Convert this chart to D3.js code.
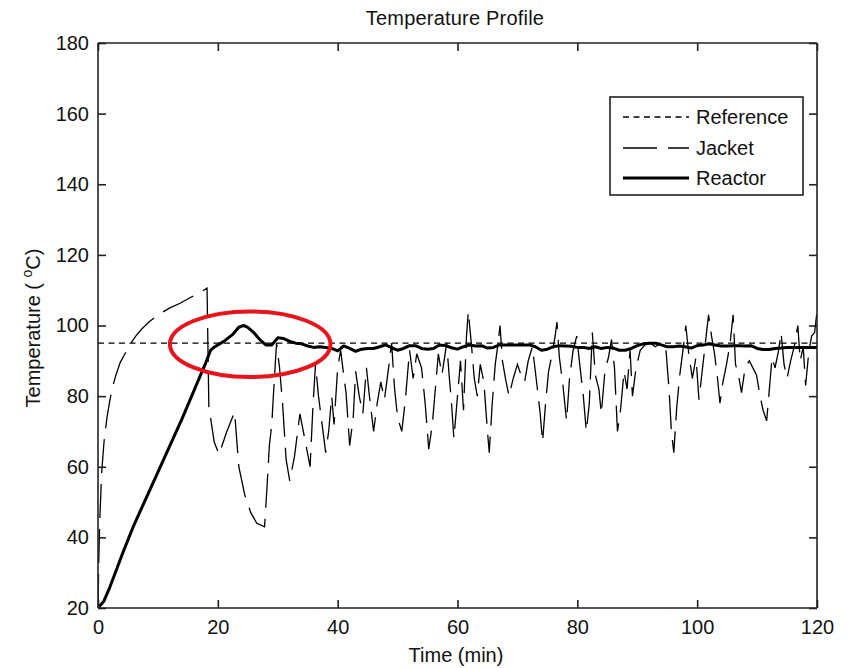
<!DOCTYPE html>
<html><head><meta charset="utf-8">
<script src="https://cdn.jsdelivr.net/npm/d3@7"></script>
<style>body{margin:0;background:#fff}svg{display:block}text{font-family:"Liberation Sans",Arial,sans-serif;fill:#111}</style>
</head><body>
<svg id="chart" width="851" height="668"></svg>
<script>
const xTicks = [0, 20, 40, 60, 80, 100, 120];
const yTicks = [20, 40, 60, 80, 100, 120, 140, 160, 180];
const seriesNames = ["Reference", "Jacket", "Reactor"];

const referenceTime = [0, 120];
const referenceTemp = [95, 95];

const reactorTime = [0,1,2,3,4,5,6,8,10,12,14,16,17,18,18.8,19.5,21,22.5,23.5,24.3,25,26,27,28,29,30,31,32,33,34,35,36,37,38,39,40,41,42,43,44,45,46,47,48,49,50,51,52,53,54,55,56,57,58,59,60,61,62,63,64,65,66,67,68,69,70,71,72,73,74,75,76,77,78,79,80,81,82,83,84,85,86,87,88,89,90,91,92,93,94,95,96,97,98,99,100,101,102,103,104,105,106,107,108,109,110,111,112,113,114,115,116,117,118,119,120];
const reactorTemp = [20,22,26,30.5,35,39.3,43.5,51,58.5,66,73.5,81.5,85.5,89.5,93,94,95.5,97.5,99.5,100,99.5,98,96,94.5,94.5,96.5,96.3,95.5,95,94.8,94.2,93.8,94,93.8,93.5,92.8,94.2,93.5,92.7,93.3,93.5,93.5,94,94.5,93.7,93,93.5,94.3,94.3,93.5,93.3,93.5,94.5,94.3,93.7,93.3,94,94.5,94.2,94.3,93.6,93.8,94.5,94.5,94.5,94.5,94.5,94.5,94,93,93.3,94,94.3,94.2,94.1,93.8,93.8,93.5,94,93.5,93.8,93.6,93,93,93.5,94.3,94.8,95,95,94.5,94,94,94.2,94,93.6,94.3,94.5,94.8,94.5,94.2,94.2,94.3,94.3,94.2,94.3,93.5,93.2,93.2,93.5,93.6,93.8,93.8,93.8,93.8,93.8,93.8];

const jacketTime = [0,0.15,0.3,0.6,1,1.5,2,2.5,3,3.7,4.5,5.3,6.3,7.3,8.5,10,12,13.7,15.5,17,18.2,18.5,19.4,20.2,21.5,22.8,23.5,24.5,25.5,26.5,27.8,28.2,28.6,29,29.3,29.8,30.3,30.8,31.4,32,32.8,33.7,34.5,35.4,35.9,36.3,36.8,37.4,38,38.5,39,39.4,40,40.5,41,41.4,42,42.6,43,43.6,44.2,44.8,45.3,46,46.6,47.2,47.8,48.5,49,49.5,50,50.7,51.3,52,52.6,53.2,54,54.6,55.2,55.8,56.3,56.8,57.4,58.2,58.6,59,59.4,60,60.5,61,61.5,61.8,62.3,62.8,63.3,63.8,64.4,65,65.3,65.8,66.3,66.7,67.1,67.5,68,68.6,69.3,70,70.6,71.2,71.8,72.5,73.2,73.8,74.2,74.7,75.2,75.8,76.3,76.6,77,77.6,78.2,78.7,79.3,79.9,80.4,81,81.5,82,82.5,83,83.6,84,84.6,85.2,85.7,86.2,86.7,87.2,87.8,88.3,88.8,89.2,89.8,90.5,91.3,92.2,93,94,94.8,95.3,95.7,96.1,96.6,97.1,97.7,98.1,98.6,99.2,99.8,100.3,100.9,101.5,101.9,102.4,102.9,103.4,103.8,104.3,104.9,105.5,106,106.4,106.9,107.4,108,108.7,109.3,109.9,110.5,111,111.6,112,112.5,113,113.6,114,114.5,115,115.6,116.2,116.8,117.2,117.7,118.1,118.6,119.1,119.6,120];
const jacketTemp = [20,35,45,58,67,74,79,83,86,89.5,92,94.5,97,99,101,103,105,106.3,108,109.3,110.6,77,67,63.5,70,75.5,60,52,47,44,43,54,66,72,81,95,88,78,62,56,63,75,68,60,78,89,80,72,64,70,80,72,88,93,86,81,66,74,87,80,75,88,80,70,78,84,79,88,95,82,74,70,79,93,85,92,88,78,65,72,82,92,86,95,86,78,68,80,90,76,97,104,95,85,80,89,84,70,64,78,89,94,100,90,85,80,85,89,86,84,90,94,84,75,67,78,87,92,97,101,91,83,73,85,93,97,89,80,70,78,98,86,82,75,87,91,96,88,70,76,87,82,93,80,88,93,94.5,95,94,95,93,82,70,64,77,86,94,100,92,85,91,79,88,97,103,97,92,85,78,84,89,95,103,89,86,81,88,90,88,86,80,76,73,81,91,88,93,98,89,85,90,94,100,90,94,83,92,97,98,104];

// annotation ellipse (data units)
const highlightCenter = [25.4, 94.7];
const highlightRadius = [13.4, 9.3];

const svg = d3.select("#chart");
const m = {l: 98, r: 817, t: 43, b: 608};
const x = d3.scaleLinear().domain([0, 120]).range([m.l, m.r]);
const y = d3.scaleLinear().domain([20, 180]).range([m.b, m.t]);

const axisColor = "#222";
const fs = 20;

svg.append("defs").append("clipPath").attr("id", "clip")
  .append("rect").attr("x", m.l).attr("y", m.t).attr("width", m.r - m.l).attr("height", m.b - m.t);

const plot = svg.append("g").attr("clip-path", "url(#clip)");
const line = d3.line().x(d => x(d[0])).y(d => y(d[1]));

const refData = referenceTime.map((t, i) => [t, referenceTemp[i]]);
const jacData = jacketTime.map((t, i) => [t, jacketTemp[i]]);
const reaData = reactorTime.map((t, i) => [t, reactorTemp[i]]);

plot.append("path").datum(refData).attr("d", line).attr("fill", "none")
  .attr("stroke", "#000").attr("stroke-width", 1.3).attr("stroke-dasharray", "6,4.5");
plot.append("path").datum(jacData).attr("d", line).attr("fill", "none")
  .attr("stroke", "#000").attr("stroke-width", 1.3).attr("stroke-dasharray", "34,11");
plot.append("path").datum(reaData).attr("d", line).attr("fill", "none")
  .attr("stroke", "#000").attr("stroke-width", 3).attr("stroke-linejoin", "round");

// axes box & ticks
const axes = svg.append("g");
const xb = d3.axisBottom(x).tickValues(xTicks).tickSize(-8).tickPadding(12);
const xt = d3.axisTop(x).tickValues(xTicks).tickSize(-8).tickFormat("");
const yl = d3.axisLeft(y).tickValues(yTicks).tickSize(-8).tickPadding(9);
const yr = d3.axisRight(y).tickValues(yTicks).tickSize(-8).tickFormat("");
function style(g) {
  g.selectAll("path.domain").attr("stroke", axisColor).attr("stroke-width", 1.6);
  g.selectAll(".tick line").attr("stroke", axisColor).attr("stroke-width", 1.6);
  g.selectAll(".tick text").attr("font-size", fs).attr("font-family", "Liberation Sans, Arial, sans-serif").attr("fill", "#111");
}
axes.append("g").attr("transform", `translate(0,${m.b})`).call(xb).call(style).call(g => g.select(".domain").attr("d", `M${m.l},0H${m.r}`));
axes.append("g").attr("transform", `translate(0,${m.t})`).call(xt).call(style).call(g => g.select(".domain").attr("d", `M${m.l},0H${m.r}`));
axes.append("g").attr("transform", `translate(${m.l},0)`).call(yl).call(style).call(g => g.select(".domain").attr("d", `M0,${m.t}V${m.b}`));
axes.append("g").attr("transform", `translate(${m.r},0)`).call(yr).call(style).call(g => g.select(".domain").attr("d", `M0,${m.t}V${m.b}`));

// title & labels
svg.append("text").attr("x", 455).attr("y", 25).attr("text-anchor", "middle")
  .attr("font-size", fs).attr("letter-spacing", "0.2").text("Temperature Profile");
svg.append("text").attr("x", 456).attr("y", 662).attr("text-anchor", "middle")
  .attr("font-size", fs).text("Time (min)");
const yl2 = svg.append("text").attr("transform", "translate(40,328) rotate(-90)")
  .attr("text-anchor", "middle").attr("font-size", fs);
yl2.append("tspan").text("Temperature ( ");
yl2.append("tspan").attr("font-size", 14).attr("dy", -8).text("o");
yl2.append("tspan").attr("dy", 8).text("C)");

// legend
const lg = svg.append("g");
lg.append("rect").attr("x", 610).attr("y", 97).attr("width", 193).attr("height", 98)
  .attr("fill", "#fff").attr("stroke", axisColor).attr("stroke-width", 1.6);
const legendStyles = [
  {dash: "6,4.5", w: 1.3},
  {dash: "34,11", w: 1.3},
  {dash: null, w: 3}
];
const legendY = [117, 148, 178];
seriesNames.forEach((name, i) => {
  const ln = lg.append("line").attr("x1", 623).attr("x2", 689).attr("y1", legendY[i]).attr("y2", legendY[i])
    .attr("stroke", "#000").attr("stroke-width", legendStyles[i].w);
  if (legendStyles[i].dash) ln.attr("stroke-dasharray", legendStyles[i].dash);
  lg.append("text").attr("x", 696).attr("y", legendY[i] + 7).attr("font-size", fs).text(name);
});

// red highlight ellipse
svg.append("ellipse")
  .attr("cx", x(highlightCenter[0])).attr("cy", y(highlightCenter[1]))
  .attr("rx", x(highlightCenter[0] + highlightRadius[0]) - x(highlightCenter[0]))
  .attr("ry", y(highlightCenter[1]) - y(highlightCenter[1] + highlightRadius[1]))
  .attr("fill", "none").attr("stroke", "#e8131b").attr("stroke-width", 4);
</script>
</body></html>
